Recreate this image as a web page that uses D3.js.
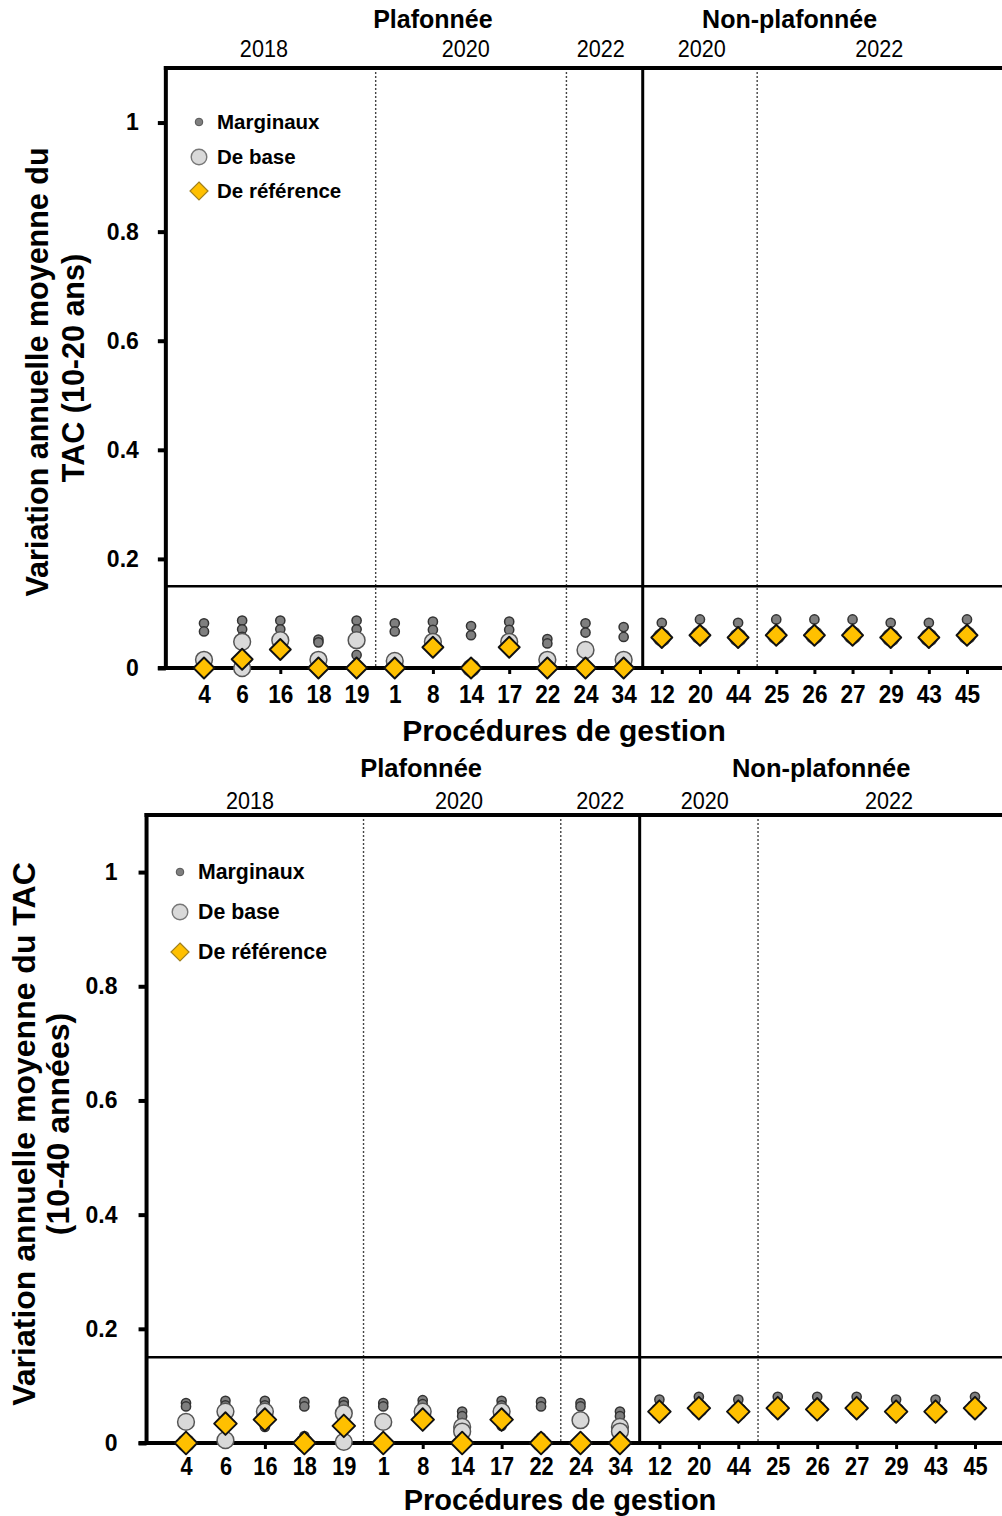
<!DOCTYPE html>
<html><head><meta charset="utf-8">
<script src="https://cdn.jsdelivr.net/npm/d3@7"></script>
<style>
body{margin:0;background:#fff}
svg{display:block}
</style>
</head><body>
<svg id="chart" width="1002" height="1516"></svg>
<script>
// Management procedures along the x axis
const categories = ["4","6","16","18","19","1","8","14","17","22","24","34","12","20","44","25","26","27","29","43","45"];
const capGroups = ["Plafonnée", "Non-plafonnée"];
const yearLabels = ["2018", "2020", "2022", "2020", "2022"];
const yTicks = [0, 0.2, 0.4, 0.6, 0.8, 1];
const legendLabels = ["Marginaux", "De base", "De référence"];

// Average annual TAC variation, years 10-20
const marg1 = [[0.082,0.067],[0.087,0.071,0.057],[0.087,0.071,0.045],[0.052,0.047],[0.087,0.071,0.057,0.024],
  [0.082,0.067],[0.085,0.070,0.035],[0.077,0.060],[0.085,0.070,0.035],[0.053,0.045],[0.082,0.065],[0.075,0.057],
  [0.083],[0.089],[0.083],[0.089],[0.089],[0.089],[0.083],[0.083],[0.089]];
const base1 = [[0.015],[0.048,0.0],[0.051],[0.015],[0.051],[0.013],[0.048],[0.0],[0.048],[0.015],[0.033],[0.015],
  [0.056],[0.060],[0.056],[0.060],[0.060],[0.060],[0.056],[0.056],[0.060]];
const ref1 = [0,0.016,0.034,0,0,0,0.038,0,0.038,0,0,0,0.056,0.060,0.056,0.060,0.060,0.060,0.056,0.056,0.060];

// Average annual TAC variation, years 10-40
const marg2 = [[0.070,0.064],[0.074,0.066,0.030],[0.074,0.066,0.028],[0.072,0.064,0.012],[0.072,0.066,0.028],
  [0.070,0.064],[0.075,0.068,0.035],[0.055,0.047,0.035],[0.074,0.066,0.030],[0.072,0.064,0.010],[0.070,0.064],[0.055,0.047,0.035],
  [0.076],[0.081],[0.076],[0.081],[0.081],[0.081],[0.076],[0.076],[0.081]];
const base2 = [[0.037,0.0],[0.055,0.005],[0.055],[0.0],[0.052,0.002],[0.037],[0.055],[0.028,0.020],[0.055],[0.0],[0.040],[0.028,0.020],
  [0.055],[0.061],[0.055],[0.061],[0.059],[0.061],[0.055],[0.055],[0.061]];
const ref2 = [0,0.034,0.041,0,0.030,0,0.041,0,0.041,0,0,0,0.055,0.061,0.055,0.061,0.059,0.061,0.055,0.055,0.061];

const yMax = 1.1;
const threshold = 0.15;
const dottedAfter = [4, 9, 14];    // dotted dividers between year blocks
const solidAfter = 11;             // capped / uncapped divider

const ARIAL = "'Liberation Sans', Arial, sans-serif";

const svg = d3.select("#chart");

const panels = [
  { marg: marg1, base: base1, ref: ref1,
    x0: 204, x1: 967, yTop: 68, yZero: 668, yPad: 19, xPad: 11, xTickSize: 26,
    titleLines: ["Variation annuelle moyenne du", "TAC (10-20 ans)"], titleX: [37, 73], titleY: [372, 368], titleSize: 30.5,
    capY: 19, capPos: [6.0, 15.35], capSize: 25, yearY: 49, yearPos: [1.57, 6.86, 10.4, 13.05, 17.7],
    legendX: 199, legendY: [122, 157, 191], legendSize: 20.5, xTitleY: 730, xTitleX: 564, xTitleSize: 30,
    diam: 10.5 },
  { marg: marg2, base: base2, ref: ref2,
    x0: 186, x1: 975, yTop: 815, yZero: 1443, yPad: 21, xPad: 8, xTickSize: 25,
    titleLines: ["Variation annuelle moyenne du TAC", "(10-40 années)"], titleX: [24, 58], titleY: [1134, 1124], titleSize: 32,
    capY: 768, capPos: [5.96, 16.1], capSize: 25.5, yearY: 801, yearPos: [1.62, 6.92, 10.5, 13.15, 17.82],
    legendX: 180, legendY: [872, 912, 952], legendSize: 21.3, xTitleY: 1500, xTitleX: 560, xTitleSize: 29,
    diam: 11.3 }
];

function diamond(r) { return `M0,${-r}L${r},0L0,${r}L${-r},0Z`; }

panels.forEach(p => {
  const n = categories.length;
  const x = d3.scaleLinear().domain([0, n - 1]).range([p.x0, p.x1]);
  const y = d3.scaleLinear().domain([0, yMax]).range([p.yZero, p.yTop]);
  const left = x(-1);
  const right = 1010;
  const g = svg.append("g");

  // dividers
  dottedAfter.forEach(i => {
    g.append("line").attr("x1", x(i + 0.5)).attr("x2", x(i + 0.5))
      .attr("y1", y(yMax)).attr("y2", y(0))
      .attr("stroke", "#444").attr("stroke-width", 1.4).attr("stroke-dasharray", "2,2");
  });
  g.append("line").attr("x1", x(solidAfter + 0.5)).attr("x2", x(solidAfter + 0.5))
    .attr("y1", y(yMax)).attr("y2", y(0)).attr("stroke", "#000").attr("stroke-width", 3);

  // threshold line
  g.append("line").attr("x1", left).attr("x2", right).attr("y1", y(threshold)).attr("y2", y(threshold))
    .attr("stroke", "#000").attr("stroke-width", 2.5);

  // top frame
  g.append("line").attr("x1", left - 2).attr("x2", right).attr("y1", y(yMax)).attr("y2", y(yMax))
    .attr("stroke", "#000").attr("stroke-width", 4);

  // y axis
  const yAxis = d3.axisLeft(y).tickValues(yTicks).tickSize(8).tickPadding(p.yPad)
    .tickFormat(d => d === 0 ? "0" : d === 1 ? "1" : d3.format(".1f")(d));
  const ya = g.append("g").attr("transform", `translate(${left},0)`).call(yAxis);
  ya.select(".domain").remove();
  ya.selectAll(".tick line").attr("stroke", "#000").attr("stroke-width", 4);
  ya.selectAll(".tick text").attr("font-family", ARIAL).attr("font-weight", "bold")
    .attr("font-size", 23).attr("fill", "#000");
  g.append("line").attr("x1", left).attr("x2", left).attr("y1", y(yMax) - 2).attr("y2", y(0) + 2)
    .attr("stroke", "#000").attr("stroke-width", 4);

  // x axis
  const xAxis = d3.axisBottom(x).tickValues(d3.range(n)).tickSize(6).tickPadding(p.xPad)
    .tickFormat(i => categories[i]);
  const xa = g.append("g").attr("transform", `translate(0,${y(0)})`).call(xAxis);
  xa.select(".domain").remove();
  xa.selectAll(".tick line").attr("stroke", "#000").attr("stroke-width", 3);
  xa.selectAll(".tick text").attr("font-family", ARIAL).attr("font-weight", "bold")
    .attr("font-size", p.xTickSize).attr("fill", "#000").attr("transform", "scale(0.87,1)");

  // markers
  const pts = g.append("g");
  p.marg.forEach((vals, i) => vals.forEach(v => {
    pts.append("circle").attr("cx", x(i)).attr("cy", y(v)).attr("r", 4.6)
      .attr("fill", "#7f7f7f").attr("stroke", "#333").attr("stroke-width", 1.5);
  }));
  p.base.forEach((vals, i) => vals.forEach(v => {
    pts.append("circle").attr("cx", x(i)).attr("cy", y(v)).attr("r", 8.4)
      .attr("fill", "#d9d9d9").attr("stroke", "#555").attr("stroke-width", 1.5);
  }));
  p.ref.forEach((v, i) => {
    pts.append("path").attr("d", diamond(p.diam)).attr("transform", `translate(${x(i)},${y(v)})`)
      .attr("fill", "#ffc000").attr("stroke", "#111").attr("stroke-width", 1.9).attr("stroke-linejoin", "round");
  });

  // x axis baseline
  g.append("line").attr("x1", left - 8).attr("x2", right).attr("y1", y(0)).attr("y2", y(0))
    .attr("stroke", "#000").attr("stroke-width", 4);
  pts.raise();

  // headers
  capGroups.forEach((t, k) => {
    g.append("text").attr("x", x(p.capPos[k])).attr("y", p.capY).attr("dy", "0.35em")
      .attr("text-anchor", "middle").attr("font-family", ARIAL).attr("font-weight", "bold")
      .attr("font-size", p.capSize).text(t);
  });
  yearLabels.forEach((t, k) => {
    g.append("text").attr("transform", `translate(${x(p.yearPos[k])},${p.yearY}) scale(0.9,1)`)
      .attr("dy", "0.35em").attr("text-anchor", "middle").attr("font-family", ARIAL)
      .attr("font-size", 24).text(t);
  });

  // y title
  p.titleLines.forEach((t, k) => {
    g.append("text").attr("transform", `translate(${p.titleX[k]},${p.titleY[k]}) rotate(-90)`)
      .attr("dy", "0.35em").attr("text-anchor", "middle").attr("font-family", ARIAL)
      .attr("font-weight", "bold").attr("font-size", p.titleSize).text(t);
  });

  // x title
  g.append("text").attr("x", p.xTitleX).attr("y", p.xTitleY).attr("dy", "0.35em")
    .attr("text-anchor", "middle").attr("font-family", ARIAL).attr("font-weight", "bold")
    .attr("font-size", p.xTitleSize).text("Procédures de gestion");

  // legend
  const lg = g.append("g");
  legendLabels.forEach((t, k) => {
    const ly = p.legendY[k];
    if (k === 0) lg.append("circle").attr("cx", p.legendX).attr("cy", ly).attr("r", 3.8)
      .attr("fill", "#7f7f7f").attr("stroke", "#555").attr("stroke-width", 1);
    if (k === 1) lg.append("circle").attr("cx", p.legendX).attr("cy", ly).attr("r", 7.8)
      .attr("fill", "#d9d9d9").attr("stroke", "#777").attr("stroke-width", 1.4);
    if (k === 2) lg.append("path").attr("d", diamond(9)).attr("transform", `translate(${p.legendX},${ly})`)
      .attr("fill", "#ffc000").attr("stroke", "#a08020").attr("stroke-width", 1.2);
    lg.append("text").attr("x", p.legendX + 18).attr("y", ly).attr("dy", "0.35em")
      .attr("font-family", ARIAL).attr("font-weight", "bold").attr("font-size", p.legendSize).text(t);
  });
});
</script>
</body></html>
